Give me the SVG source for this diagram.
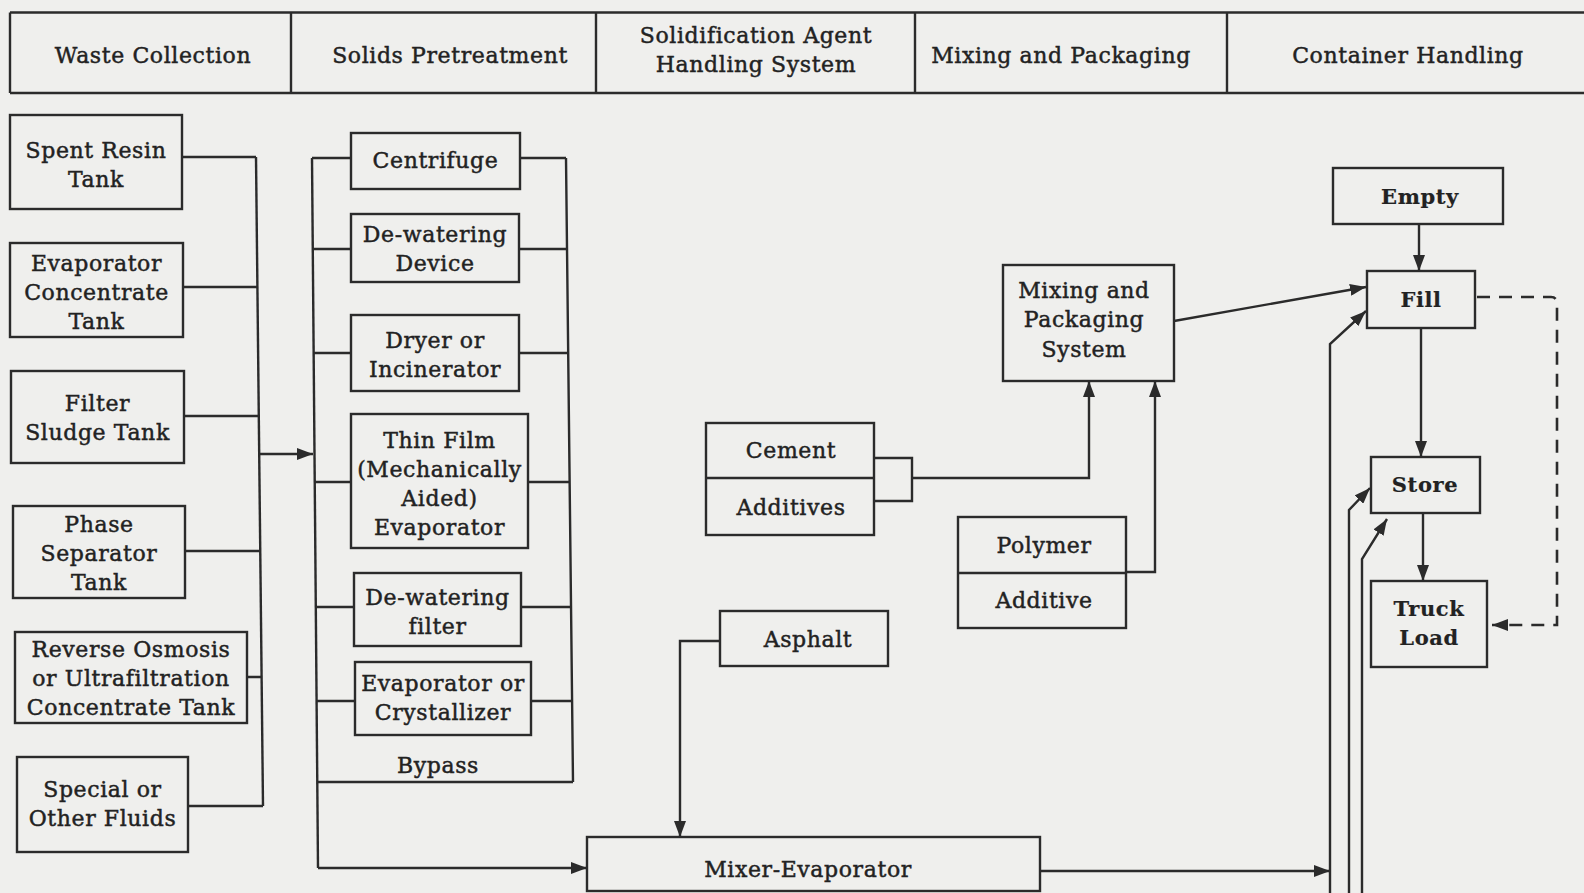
<svg xmlns="http://www.w3.org/2000/svg" width="1584" height="893" viewBox="0 0 1584 893">
<defs>
<style>
.bx{fill:none;stroke:#2b2b2b;stroke-width:2.4}
.ln{fill:none;stroke:#2b2b2b;stroke-width:2.4}
.ar{fill:none;stroke:#2b2b2b;stroke-width:2.4;marker-end:url(#ah)}
.ds{fill:none;stroke:#2b2b2b;stroke-width:2.6;stroke-dasharray:13 9;marker-end:url(#ah)}
text{font-family:"DejaVu Serif","Liberation Serif",serif;font-size:22px;letter-spacing:0.6px;fill:#222;stroke:#222;stroke-width:0.45;text-anchor:middle}
.b{font-weight:bold;font-size:21px;letter-spacing:0.6px;stroke-width:0.2}
</style>
<marker id="ah" viewBox="0 0 16 12" refX="16" refY="6" markerWidth="16" markerHeight="12" markerUnits="userSpaceOnUse" orient="auto">
<path d="M0,0 L16,6 L0,12 z" fill="#2b2b2b"/>
</marker>
</defs>
<rect width="1584" height="893" fill="#efefed"/>

<g id="header">
<path class="ln" d="M10,12.5 H1584 M10,93 H1584 M10,12.5 V93 M291,12.5 V93 M596,12.5 V93 M915,12.5 V93 M1227,12.5 V93"/>
<text x="153" y="63">Waste Collection</text>
<text x="450" y="63">Solids Pretreatment</text>
<text x="756" y="43">Solidification Agent</text>
<text x="756" y="72">Handling System</text>
<text x="1061" y="63">Mixing and Packaging</text>
<text x="1408" y="63">Container Handling</text>
</g>

<g id="connectors">
<path class="ln" d="M256,157 L263,806"/>
<path class="ln" d="M182,157 H256 M183,287 H257.4 M184,416 H258.8 M185,551 H260.2 M247,677 H261.6 M188,806 H263"/>
<path class="ar" d="M258.2,454 H313"/>
<path class="ln" d="M312,158 L318,868"/>
<path class="ln" d="M566,158 L573,782 M317.3,782 H573"/>
<path class="ln" d="M312,158 H351 M312.8,249 H351 M313.6,353 H351 M314.7,482 H351 M315.8,607 H354 M316.6,701 H355"/>
<path class="ln" d="M520,158 H566 M519,249 H567 M519,353 H568.2 M528,482 H569.7 M521,607 H571.1 M531,701 H572.1"/>
<path class="ar" d="M318,868 H587"/>
<path class="ar" d="M720,641 H680 V837"/>
<path class="ln" d="M874,458 H912 V501 H874"/>
<path class="ar" d="M912,478 H1089 V381"/>
<path class="ar" d="M1126,572 H1155 V381"/>
<path class="ar" d="M1174,321 L1366,287"/>
<path class="ar" d="M1419,224 V271"/>
<path class="ar" d="M1421,328 V457"/>
<path class="ar" d="M1423,513 V581"/>
<path class="ds" d="M1477,297 H1551 Q1557,297 1557,304 V625 H1492"/>
<path class="ar" d="M1040,871 H1330"/>
<path class="ar" d="M1330,893 V344 L1366,311"/>
<path class="ar" d="M1349,893 V510 L1370,488"/>
<path class="ar" d="M1362,893 V559 L1387,519"/>
</g>

<g id="spent-resin-tank"><rect class="bx" x="10" y="115" width="172" height="94"/><text x="96" y="158">Spent Resin</text><text x="96" y="187">Tank</text></g>
<g id="evaporator-concentrate-tank"><rect class="bx" x="10" y="243" width="173" height="94"/><text x="96.5" y="271">Evaporator</text><text x="96.5" y="300">Concentrate</text><text x="96.5" y="329">Tank</text></g>
<g id="filter-sludge-tank"><rect class="bx" x="11" y="371" width="173" height="92"/><text x="97.5" y="411">Filter</text><text x="97.5" y="440">Sludge Tank</text></g>
<g id="phase-separator-tank"><rect class="bx" x="13" y="506" width="172" height="92"/><text x="99" y="532">Phase</text><text x="99" y="561">Separator</text><text x="99" y="590">Tank</text></g>
<g id="ro-concentrate-tank"><rect class="bx" x="15" y="632" width="232" height="91"/><text x="131" y="657">Reverse Osmosis</text><text x="131" y="686">or Ultrafiltration</text><text x="131" y="715">Concentrate Tank</text></g>
<g id="special-fluids"><rect class="bx" x="17" y="757" width="171" height="95"/><text x="102.5" y="797">Special or</text><text x="102.5" y="826">Other Fluids</text></g>

<g id="centrifuge"><rect class="bx" x="351" y="133" width="169" height="56"/><text x="435.5" y="168">Centrifuge</text></g>
<g id="dewatering-device"><rect class="bx" x="351" y="214" width="168" height="68"/><text x="435" y="242">De-watering</text><text x="435" y="271">Device</text></g>
<g id="dryer-incinerator"><rect class="bx" x="351" y="315" width="168" height="76"/><text x="435" y="348">Dryer or</text><text x="435" y="377">Incinerator</text></g>
<g id="thin-film-evaporator"><rect class="bx" x="351" y="414" width="177" height="134"/><text x="439.5" y="448">Thin Film</text><text x="439.5" y="477">(Mechanically</text><text x="439.5" y="506">Aided)</text><text x="439.5" y="535">Evaporator</text></g>
<g id="dewatering-filter"><rect class="bx" x="354" y="573" width="167" height="73"/><text x="437.5" y="605">De-watering</text><text x="437.5" y="634">filter</text></g>
<g id="evaporator-crystallizer"><rect class="bx" x="355" y="662" width="176" height="73"/><text x="443" y="691">Evaporator or</text><text x="443" y="720">Crystallizer</text></g>
<g id="bypass"><text x="438" y="773">Bypass</text></g>

<g id="cement-additives"><rect class="bx" x="706" y="423" width="168" height="112"/><path class="ln" d="M706,478 H874"/><text x="791" y="458">Cement</text><text x="791" y="515">Additives</text></g>
<g id="polymer-additive"><rect class="bx" x="958" y="517" width="168" height="111"/><path class="ln" d="M958,573 H1126"/><text x="1044" y="553">Polymer</text><text x="1044" y="608">Additive</text></g>
<g id="asphalt"><rect class="bx" x="720" y="611" width="168" height="55"/><text x="808" y="647">Asphalt</text></g>
<g id="mixing-packaging-system"><rect class="bx" x="1003" y="265" width="171" height="116"/><text x="1084" y="298">Mixing and</text><text x="1084" y="327">Packaging</text><text x="1084" y="357">System</text></g>
<g id="mixer-evaporator"><rect class="bx" x="587" y="837" width="453" height="54"/><text x="808" y="877">Mixer-Evaporator</text></g>

<g id="empty"><rect class="bx" x="1333" y="168" width="170" height="56"/><text class="b" x="1420" y="204">Empty</text></g>
<g id="fill"><rect class="bx" x="1367" y="271" width="108" height="57"/><text class="b" x="1421" y="307">Fill</text></g>
<g id="store"><rect class="bx" x="1371" y="457" width="109" height="56"/><text class="b" x="1425" y="492">Store</text></g>
<g id="truck-load"><rect class="bx" x="1371" y="581" width="116" height="86"/><text class="b" x="1429" y="616">Truck</text><text class="b" x="1429" y="645">Load</text></g>
</svg>
